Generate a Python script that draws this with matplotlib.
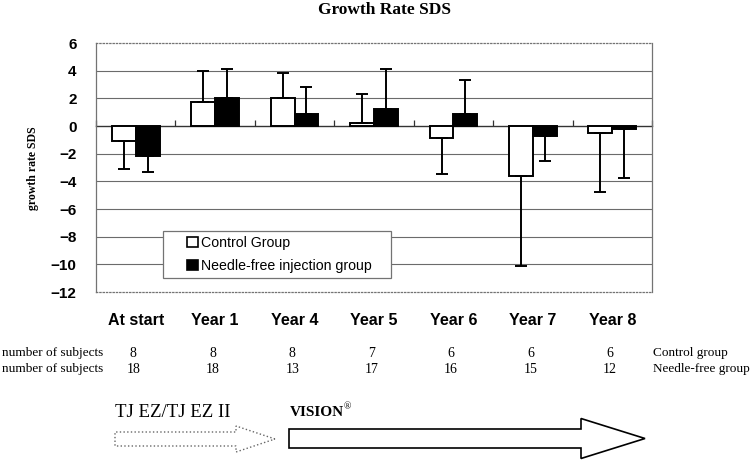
import numpy as np
import matplotlib
matplotlib.use('Agg')
import matplotlib.pyplot as plt
from matplotlib.patches import Patch, FancyArrow, Rectangle
from matplotlib.transforms import blended_transform_factory

# Data
categories = ['At start', 'Year 1', 'Year 4', 'Year 5', 'Year 6', 'Year 7', 'Year 8']
control_mean = [-1.1, 1.75, 2.05, 0.25, -0.85, -3.6, -0.5]
control_err_end = [-3.1, 4.0, 3.85, 2.3, -3.5, -10.1, -4.8]
needle_mean = [-2.15, 2.0, 0.85, 1.25, 0.85, -0.75, -0.25]
needle_err_end = [-3.3, 4.1, 2.8, 4.1, 3.35, -2.5, -3.75]
n_control = [8, 8, 8, 7, 6, 6, 6]
n_needle = [18, 18, 13, 17, 16, 15, 12]
yticks = [6, 4, 2, 0, -2, -4, -6, -8, -10, -12]

W, H = 751, 461
fig = plt.figure(figsize=(W / 100, H / 100), dpi=100)
ax = fig.add_axes([96 / W, 1 - 292 / H, 556 / W, 249 / H])

x = np.arange(len(categories))
bw = 0.3


def one_sided(mean, end):
    mean = np.array(mean)
    end = np.array(end)
    lower = np.where(end < mean, mean - end, 0)
    upper = np.where(end > mean, end - mean, 0)
    return [lower, upper]


ax.bar(x - bw / 2, control_mean, bw, color='white', edgecolor='black', lw=1.4, zorder=3)
ax.bar(x + bw / 2, needle_mean, bw, color='black', edgecolor='black', lw=1.4, zorder=3)
ax.errorbar(x - bw / 2, control_mean, yerr=one_sided(control_mean, control_err_end),
            fmt='none', ecolor='black', elinewidth=1.4, capsize=4, capthick=1.4, zorder=4)
ax.errorbar(x + bw / 2, needle_mean, yerr=one_sided(needle_mean, needle_err_end),
            fmt='none', ecolor='black', elinewidth=1.4, capsize=4, capthick=1.4, zorder=4)

ax.set_xlim(-0.5, len(categories) - 0.5)
ax.set_ylim(-12, 6)
ax.set_yticks(yticks)
ax.set_yticklabels([str(t).replace('-', '\u2212') for t in yticks],
                   fontfamily='Liberation Sans', fontweight='bold', fontsize=11)
ax.set_xticks(x)
ax.set_xticklabels(categories, fontfamily='Liberation Sans', fontweight='bold', fontsize=11.5)
ax.tick_params(axis='both', length=0)
ax.tick_params(axis='y', pad=14)
ax.tick_params(axis='x', pad=15)
for t in yticks[1:-1]:
    if t != 0:
        ax.axhline(t, color='0.42', lw=0.8, zorder=1)

for s in ['left', 'right']:
    ax.spines[s].set_color('0.45')
    ax.spines[s].set_linewidth(0.9)
for s in ['top', 'bottom']:
    ax.spines[s].set_color('0.45')
    ax.spines[s].set_linestyle(':')
    ax.spines[s].set_linewidth(0.9)

# zero line with category boundary ticks (secondary axis sits on its 'top' spine)
zero_pos = (0 - (-12)) / 18
sec = ax.secondary_xaxis(zero_pos)
sec.set_xticks(np.arange(len(categories) + 1) - 0.5)
sec.set_xticklabels([])
sec.tick_params(direction='out', length=4, width=0.9, color='0.2')
for s in ['top', 'bottom']:
    sec.spines[s].set_color('0.2')
    sec.spines[s].set_linewidth(1.0)

# legend: frame box plus entries
ax.add_patch(Rectangle((0.12, 0.056), 0.41, 0.19, transform=ax.transAxes,
                       facecolor='white', edgecolor='0.45', lw=0.9, zorder=5))
handles = [Patch(facecolor='white', edgecolor='black', lw=1.2),
           Patch(facecolor='black', edgecolor='black', lw=1.2)]
leg = ax.legend(handles, ['Control Group', 'Needle-free injection group'],
                loc='center left', bbox_to_anchor=(0.1637, 0.1506),
                prop={'family': 'Liberation Sans', 'size': 10.2}, frameon=False,
                handlelength=0.75, handleheight=0.75, handletextpad=0.25,
                labelspacing=0.6, borderpad=0, borderaxespad=0)
leg.set_zorder(6)

# titles
fig.text(385 / W, 1 - 10 / H, 'Growth Rate SDS', ha='center', va='center',
         fontfamily='Liberation Serif', fontweight='bold', fontsize=12.5)
fig.text(33 / W, 1 - 168 / H, 'growth rate SDS', ha='center', va='center', rotation=90,
         fontfamily='Liberation Serif', fontweight='bold', fontsize=8.5)

# subject counts table
trans = blended_transform_factory(ax.transData, fig.transFigure)
row_y = [1 - 353 / H, 1 - 369 / H]
for ry, counts, label in zip(row_y, [n_control, n_needle], ['Control group', 'Needle-free group']):
    fig.text(2 / W, ry, 'number of subjects', ha='left', va='center',
             fontfamily='Liberation Serif', fontsize=9.5)
    for xi, c in zip(x, counts):
        ax.text(xi - 0.03, ry, str(c), transform=trans, ha='center', va='center',
                fontfamily='Liberation Serif', fontsize=10, clip_on=False)
    fig.text(653 / W, ry, label, ha='left', va='center',
             fontfamily='Liberation Serif', fontsize=9.5)

# device arrows
ov = fig.add_axes([0, 0, 1, 1], zorder=-1)
ov.set_xlim(0, W)
ov.set_ylim(H, 0)
ov.axis('off')
ov.add_patch(FancyArrow(115, 439, 160, 0, width=14, head_width=26, head_length=39,
                        length_includes_head=True, facecolor='white', edgecolor='0.4',
                        lw=1.0, linestyle=':'))
ov.add_patch(FancyArrow(289, 438.5, 356, 0, width=19, head_width=40, head_length=64,
                        length_includes_head=True, facecolor='white', edgecolor='black',
                        lw=1.2))
ov.text(115, 412, 'TJ EZ/TJ EZ II', ha='left', va='center',
        fontfamily='Liberation Serif', fontsize=13.5)
vt = ov.text(290, 412, 'VISION', ha='left', va='center',
             fontfamily='Liberation Serif', fontweight='bold', fontsize=11)
fig.canvas.draw()
bb = vt.get_window_extent()
ov.text(bb.x1 - 1, 407, '\u00ae', ha='left', va='center',
        fontfamily='Liberation Serif', fontsize=7)

fig.savefig('out.png', dpi=100)
